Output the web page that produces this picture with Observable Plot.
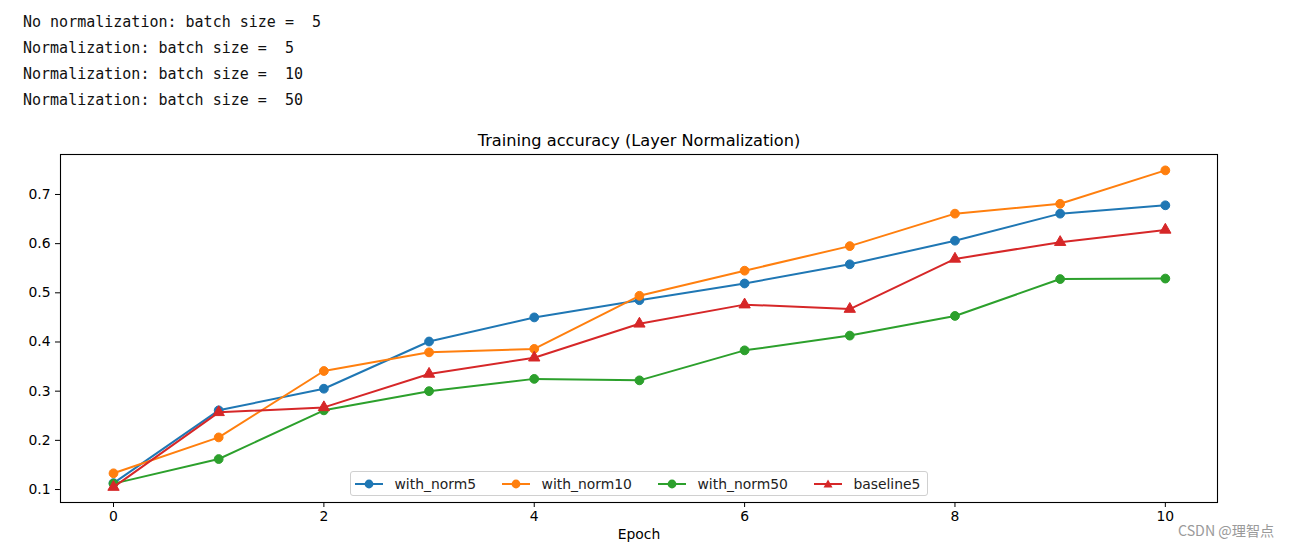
<!DOCTYPE html>
<html>
<head>
<meta charset="utf-8">
<script src="https://cdn.jsdelivr.net/npm/d3@7"></script>
<script src="https://cdn.jsdelivr.net/npm/@observablehq/plot@0.6"></script>
<style>
  html, body { margin: 0; padding: 0; background: white; }
  body { position: relative; width: 1292px; height: 548px; overflow: hidden; }
  #log { position: absolute; left: 23px; top: 9px; margin: 0; font-family: "DejaVu Sans Mono", monospace; font-size: 15px; line-height: 26px; color: #111; white-space: pre; }
  #chart { position: absolute; left: 0; top: 120px; }
  #legend { position: absolute; left: 350px; top: 471px; height: 25px; width: 578px; box-sizing: border-box; border: 1px solid #d0d0d0; border-radius: 3px; background: rgba(255,255,255,0.8); display: flex; align-items: center; padding: 0 0 0 4px; font-family: "DejaVu Sans", sans-serif; font-size: 13.9px; color: #222; }
  #legend .item { display: flex; align-items: center; margin-right: 26px; }
  #legend .item:last-child { margin-right: 0; }
  #legend svg { margin-right: 11.5px; }
  #wm { position: absolute; left: 1178px; top: 520px; font-family: "Noto Sans CJK SC", "DejaVu Sans", sans-serif; font-size: 14.2px; color: #9a9a9a; }
</style>
</head>
<body>
<pre id="log"></pre>
<div id="chart"></div>
<div id="legend"></div>
<div id="wm">CSDN @理智点</div>
<script>
const logLines = [
  "No normalization: batch size =  5",
  "Normalization: batch size =  5",
  "Normalization: batch size =  10",
  "Normalization: batch size =  50"
];
const titleText = "Training accuracy (Layer Normalization)";
const xLabel = "Epoch";
const epochs = [0, 1, 2, 3, 4, 5, 6, 7, 8, 9, 10];
const xTicks = [0, 2, 4, 6, 8, 10];
const yTicks = [0.1, 0.2, 0.3, 0.4, 0.5, 0.6, 0.7];
const seriesNames = ["with_norm5", "with_norm10", "with_norm50", "baseline5"];
const seriesColors = ["#1f77b4", "#ff7f0e", "#2ca02c", "#d62728"];
const seriesSymbols = ["circle", "circle", "circle", "triangle"];
const withNorm5 = [0.113, 0.261, 0.305, 0.401, 0.450, 0.485, 0.519, 0.558, 0.606, 0.661, 0.678];
const withNorm10 = [0.133, 0.206, 0.341, 0.379, 0.386, 0.494, 0.545, 0.595, 0.661, 0.681, 0.749];
const withNorm50 = [0.112, 0.162, 0.261, 0.300, 0.325, 0.322, 0.383, 0.413, 0.453, 0.528, 0.529];
const baseline5 = [0.105, 0.257, 0.267, 0.335, 0.368, 0.437, 0.476, 0.467, 0.569, 0.603, 0.628];
const seriesValues = [withNorm5, withNorm10, withNorm50, baseline5];

document.getElementById("log").textContent = logLines.join("\n");

const marks = [];
seriesNames.forEach((name, i) => {
  const rows = epochs.map((e, j) => ({epoch: e, acc: seriesValues[i][j], series: name}));
  marks.push(Plot.line(rows, {x: "epoch", y: "acc", stroke: seriesColors[i], strokeWidth: 2}));
  marks.push(Plot.dot(rows, {x: "epoch", y: "acc", fill: seriesColors[i], stroke: seriesColors[i], strokeWidth: 1, symbol: seriesSymbols[i], r: seriesSymbols[i] === "triangle" ? 4.2 : 4.4}));
});

const chart = Plot.plot({
  width: 1292,
  height: 428,
  marginTop: 34,
  marginBottom: 46,
  marginLeft: 60,
  marginRight: 75,
  style: {fontFamily: "DejaVu Sans, sans-serif", fontSize: "13.9px", color: "#000", background: "white", overflow: "visible"},
  x: {domain: [-0.504, 10.496], ticks: xTicks, tickSize: 5, tickPadding: 4, tickFormat: d => String(d), label: null},
  y: {domain: [0.0736, 0.7813], ticks: yTicks, tickSize: 5, tickPadding: 5, tickFormat: d => d.toFixed(1), label: null},
  marks: [
    ...marks,
    Plot.frame({stroke: "black", strokeWidth: 1.1}),
    Plot.text([titleText], {frameAnchor: "top", dy: -20, text: d => d, fontSize: 16.2, fill: "black"}),
    Plot.text([xLabel], {frameAnchor: "bottom", dy: 36, text: d => d, fontSize: 13.9, fill: "black"})
  ]
});
document.getElementById("chart").appendChild(chart);

const legend = document.getElementById("legend");
seriesNames.forEach((name, i) => {
  const item = document.createElement("div");
  item.className = "item";
  const sym = seriesSymbols[i] === "triangle"
    ? `<polygon points="14,1.5 18.5,9.5 9.5,9.5" fill="${seriesColors[i]}"/>`
    : `<circle cx="14" cy="6" r="4.4" fill="${seriesColors[i]}"/>`;
  item.innerHTML = `<svg width="28" height="12" viewBox="0 0 28 12"><line x1="0" x2="28" y1="6" y2="6" stroke="${seriesColors[i]}" stroke-width="2"/>${sym}</svg><span>${name}</span>`;
  legend.appendChild(item);
});
</script>
</body>
</html>
